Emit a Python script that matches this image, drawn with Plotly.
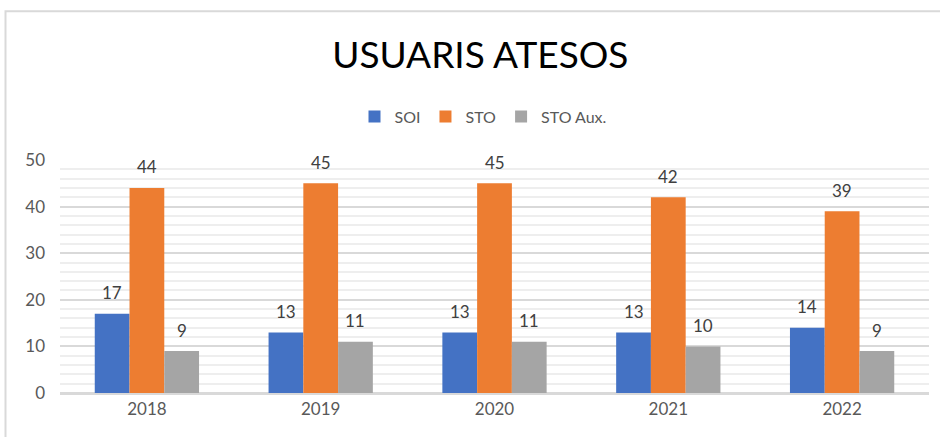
import plotly.graph_objects as go

years = ["2018", "2019", "2020", "2021", "2022"]
series_names = ["SOI", "STO", "STO Aux."]
soi = [17, 13, 13, 13, 14]
sto = [44, 45, 45, 42, 39]
sto_aux = [9, 11, 11, 10, 9]
colors = ["#4472C4", "#ED7D31", "#A5A5A5"]

W, H = 940, 437
L, R, T, B = 60, 11, 159.5, 44
FONT = "Lato, Carlito, sans-serif"

fig = go.Figure()
all_series = [soi, sto, sto_aux]
for name, vals, c in zip(series_names, all_series, colors):
    fig.add_trace(go.Bar(x=years, y=vals, name=name, marker=dict(color=c, line=dict(width=0))))

# data labels placed above bars
plot_w = W - L - R
cat_w = plot_w / len(years)
bar_w = cat_w * 0.6 / 3
for i, vals in enumerate(all_series):
    for j, v in enumerate(vals):
        fig.add_annotation(x=j, y=v, text=str(v), showarrow=False,
                           xshift=(i - 1) * bar_w, yshift=21,
                           font=dict(family=FONT, size=17, color="#404040"))

pw = plot_w
ph = H - T - B
# chart border (top and left visible)
fig.add_shape(type="rect", xref="paper", yref="paper",
              x0=(5.5 - L) / pw, x1=(960 - L) / pw,
              y0=(H - B - 460) / ph, y1=(H - B - 10.5) / ph,
              line=dict(color="#D9D9D9", width=2), layer="below")

fig.update_layout(
    width=W, height=H,
    margin=dict(l=L, r=R, t=T, b=B, autoexpand=False),
    paper_bgcolor="white", plot_bgcolor="white",
    barmode="group", bargap=0.4, bargroupgap=0,
    title=dict(text="USUARIS ATESOS", x=0.511, xanchor="center", y=1 - 55 / H, yanchor="middle",
               font=dict(family=FONT, size=37, color="#000000")),
    legend=dict(orientation="h", x=(483 - L) / pw, xanchor="center", y=(H - B - 116) / ph, yanchor="middle",
                font=dict(family=FONT, size=16, color="#595959"),
                itemwidth=30, traceorder="normal", bgcolor="rgba(0,0,0,0)"),
    font=dict(family=FONT, size=16, color="#595959"),
    xaxis=dict(type="category", range=[-0.5, len(years) - 0.5], showgrid=False, showline=True,
               linecolor="#D9D9D9", linewidth=1.5,
               tickfont=dict(size=17, color="#595959"), ticks="", fixedrange=True),
    yaxis=dict(range=[0, 50], dtick=10, showgrid=True, gridcolor="#D9D9D9", gridwidth=1.5,
               zeroline=True, zerolinecolor="#D9D9D9", zerolinewidth=1.5,
               tickfont=dict(size=17, color="#595959"), ticks="", ticklabelstandoff=14,
               minor=dict(dtick=2, showgrid=True, gridcolor="#EEEEEE", gridwidth=1.5)),
)

fig.write_html("out.html", config={"displayModeBar": False},
               post_script="document.body.style.margin='0';document.body.style.overflow='hidden';")
